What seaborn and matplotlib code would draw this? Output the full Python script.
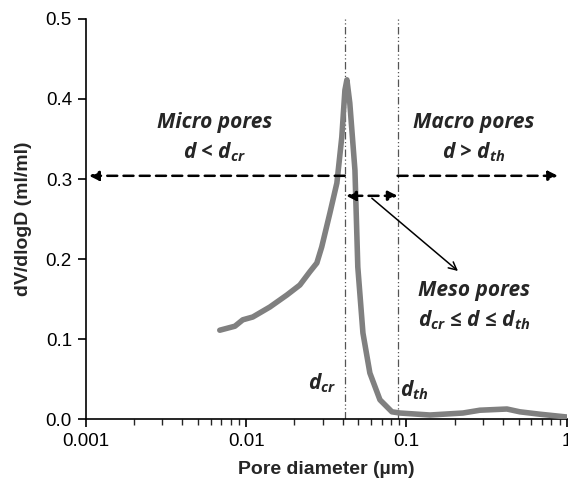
import numpy as np
import pandas as pd
import matplotlib
matplotlib.use("Agg")
import matplotlib.pyplot as plt
import seaborn as sns
from matplotlib.ticker import LogLocator, FixedLocator, FuncFormatter

# Data
pore_diameter = [0.00685, 0.00851, 0.00953, 0.0110, 0.01406, 0.01795, 0.02163, 0.02495,
                 0.0276, 0.0296, 0.0333, 0.0368, 0.0395, 0.0413, 0.0425, 0.0443, 0.0477,
                 0.0497, 0.0535, 0.0591, 0.0683, 0.0811, 0.0910, 0.140, 0.225, 0.287,
                 0.423, 0.509, 0.679, 1.0]
dv_dlogd = [0.111, 0.116, 0.124, 0.1275, 0.140, 0.155, 0.1675, 0.184, 0.195, 0.215,
            0.2575, 0.295, 0.3525, 0.411, 0.424, 0.395, 0.311, 0.19, 0.1075, 0.0575,
            0.024, 0.009, 0.0075, 0.005, 0.0075, 0.011, 0.0125, 0.009, 0.006, 0.0025]

d_cr = 0.0412
d_th = 0.088
y_arrow = 0.304
y_meso = 0.279
x_ticks = [0.001, 0.01, 0.1, 1]
x_tick_labels = ["0.001", "0.01", "0.1", "1"]
y_ticks = [0.0, 0.1, 0.2, 0.3, 0.4, 0.5]

sns.set_style("ticks")
plt.rcParams['font.family'] = ['Liberation Sans', 'DejaVu Sans']
plt.rcParams['mathtext.fontset'] = 'custom'
plt.rcParams['mathtext.rm'] = 'Open Sans:bold:italic'
plt.rcParams['mathtext.it'] = 'Open Sans:bold:italic'
plt.rcParams['mathtext.bf'] = 'Open Sans:bold:italic'

fig = plt.figure(figsize=(5.68, 4.87), dpi=100)
ax = fig.add_axes([0.151, 0.1396, 0.847, 0.8214])

df = pd.DataFrame({"d": pore_diameter, "v": dv_dlogd})
sns.lineplot(data=df, x="d", y="v", ax=ax, color="#808080", linewidth=4.0,
             solid_capstyle="round", solid_joinstyle="round", zorder=3)

ax.set_xscale("log")
ax.set_xlim(0.001, 1)
ax.set_ylim(0, 0.5)
ax.xaxis.set_major_locator(FixedLocator(x_ticks))
ax.xaxis.set_major_formatter(FuncFormatter(lambda v, p: x_tick_labels[x_ticks.index(v)] if v in x_ticks else ""))
ax.xaxis.set_minor_locator(LogLocator(base=10, subs=np.arange(2, 10)))
ax.set_yticks(y_ticks)
ax.set_yticklabels([f"{v:.1f}" for v in y_ticks])

for s in ["top", "right"]:
    ax.spines[s].set_visible(False)
for s in ["left", "bottom"]:
    ax.spines[s].set_linewidth(1.2)
    ax.spines[s].set_color("black")

ax.tick_params(axis="both", which="major", direction="out", length=6, width=1.2,
               labelsize=13.5, colors="black", pad=4)
ax.tick_params(axis="x", which="minor", direction="out", length=4, width=1.0)

ax.set_xlabel("Pore diameter (µm)", fontsize=14, fontweight="bold", labelpad=8)
ax.set_ylabel("dV/dlogD (ml/ml)", fontsize=14, fontweight="bold", labelpad=10)

# vertical dash-dot lines
for xv in [d_cr, d_th]:
    ax.plot([xv, xv], [0, 0.5], color="#555555", linewidth=0.9,
            linestyle=(0, (6, 2, 1, 2, 1, 2)), zorder=2)

arrow_kw = dict(arrowstyle="-|>", mutation_scale=14, color="black", linewidth=1.8,
                linestyle=(0, (4, 2.5)), shrinkA=0, shrinkB=0)
ax.annotate("", xy=(0.00105, y_arrow), xytext=(d_cr, y_arrow), arrowprops=arrow_kw)
ax.annotate("", xy=(0.88, y_arrow), xytext=(d_th, y_arrow), arrowprops=arrow_kw)
meso_kw = dict(arrowstyle="<|-|>", mutation_scale=14, color="black", linewidth=1.8,
               linestyle=(0, (4, 2.5)), shrinkA=0, shrinkB=0)
ax.annotate("", xy=(d_cr * 1.02, y_meso), xytext=(d_th, y_meso), arrowprops=meso_kw)
ax.annotate("", xy=(0.2094, 0.185), xytext=(0.0608, 0.276),
            arrowprops=dict(arrowstyle="->", color="black", linewidth=1.1,
                            shrinkA=0, shrinkB=0, mutation_scale=14))

tkw = dict(fontsize=15, fontweight="bold", fontstyle="italic", ha="center", va="center",
           family=['Open Sans', 'DejaVu Sans'])
ax.text(0.00638, 0.371, "Micro pores", **tkw)
ax.text(0.00638, 0.333, r"d < d$_{cr}$", **tkw)
ax.text(0.263, 0.371, "Macro pores", **tkw)
ax.text(0.263, 0.333, r"d > d$_{th}$", **tkw)
ax.text(0.263, 0.161, "Meso pores", **tkw)
ax.text(0.263, 0.124, r"d$_{cr}$ ≤ d ≤ d$_{th}$", **tkw)
ax.text(0.0296, 0.045, r"d$_{cr}$", **tkw)
ax.text(0.1127, 0.036, r"d$_{th}$", **tkw)

fig.savefig("out.png", dpi=100)
